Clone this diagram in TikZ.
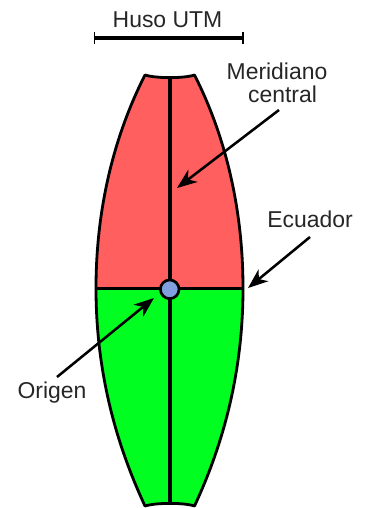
\documentclass[tikz,border=0pt]{standalone}
\usepackage{fontspec}
\setmainfont{Liberation Sans}
\usepackage{xcolor}
\usetikzlibrary{arrows.meta,positioning}
\definecolor{husored}{HTML}{FF5F5F}
\definecolor{husogreen}{HTML}{00FF21}
\definecolor{origblue}{HTML}{7F9FDF}
\begin{document}
\begin{tikzpicture}[x=0.75pt,y=-0.75pt,
  lbl/.style={font=\fontsize{17.2pt}{17.25pt}\selectfont,anchor=base,inner sep=0pt,text=black!85},
  arr/.style={-{Stealth[length=15pt,width=11.5pt,inset=4.5pt]},line width=1.9pt},
  outline/.style={line width=2.1pt,line join=round},
  axisline/.style={line width=2.3pt}]
\useasboundingbox (0,0) rectangle (366,508);
% corners of the zone
\coordinate (tl) at (145,75);
\coordinate (tr) at (194.5,75);
\coordinate (tm) at (170,78);
\coordinate (bl) at (145,506);
\coordinate (br) at (194.5,506);
\coordinate (bm) at (170,503);
\coordinate (el) at (96,288.3);
\coordinate (er) at (243,288.3);
% the two halves
\fill[husored] (tl) .. controls (156,78.5) and (184,78.5) .. (tr) .. controls (221.5,128) and (243,200) .. (er) -- (el) .. controls (96,200) and (118,128) .. (tl) -- cycle;
\fill[husogreen] (el) -- (er) .. controls (243,376) and (221.5,448) .. (br) .. controls (184,502.5) and (156,502.5) .. (bl) .. controls (118,448) and (96,376) .. (el) -- cycle;
\draw[outline] (tl) .. controls (156,78.5) and (184,78.5) .. (tr) .. controls (221.5,128) and (243,200) .. (er) .. controls (243,376) and (221.5,448) .. (br) .. controls (184,502.5) and (156,502.5) .. (bl) .. controls (118,448) and (96,376) .. (el) .. controls (96,200) and (118,128) .. (tl) -- cycle;
\draw[axisline] (el) -- (er);
\draw[axisline] (tm) -- (bm);
\node[draw,circle,line width=2pt,fill=origblue,minimum size=14pt,inner sep=0pt] (orig) at (169.7,289.3) {};
% bar on top
\node[lbl] (huso) at (167.5,27) {Huso UTM};
\coordinate (barl) at (94.5,37.7);
\coordinate (barr) at (243,37.7);
\draw[line width=3.2pt] (barl) -- (barr);
\draw[line width=0.8pt] ([yshift=-4.5pt]barl) -- ([yshift=4.5pt]barl);
\draw[line width=0.8pt] ([yshift=-4.5pt]barr) -- ([yshift=4.5pt]barr);
% labels
\node[lbl] (merid) at (277,79) {Meridiano};
\node[lbl] (centr) at (282.5,102) {central};
\node[lbl] (ecua) at (310,227) {Ecuador};
\node[lbl] (orlab) at (52,398) {Origen};
\coordinate (mfrom) at (279,110);
\coordinate (mtip) at (177,188);
\coordinate (efrom) at (310,237);
\coordinate (etip) at (248,288);
\coordinate (ofrom) at (57,377);
\coordinate (otip) at (154,298);
\draw[arr] (mfrom) -- (mtip);
\draw[arr] (efrom) -- (etip);
\draw[arr] (ofrom) -- (otip);
\end{tikzpicture}
\end{document}
